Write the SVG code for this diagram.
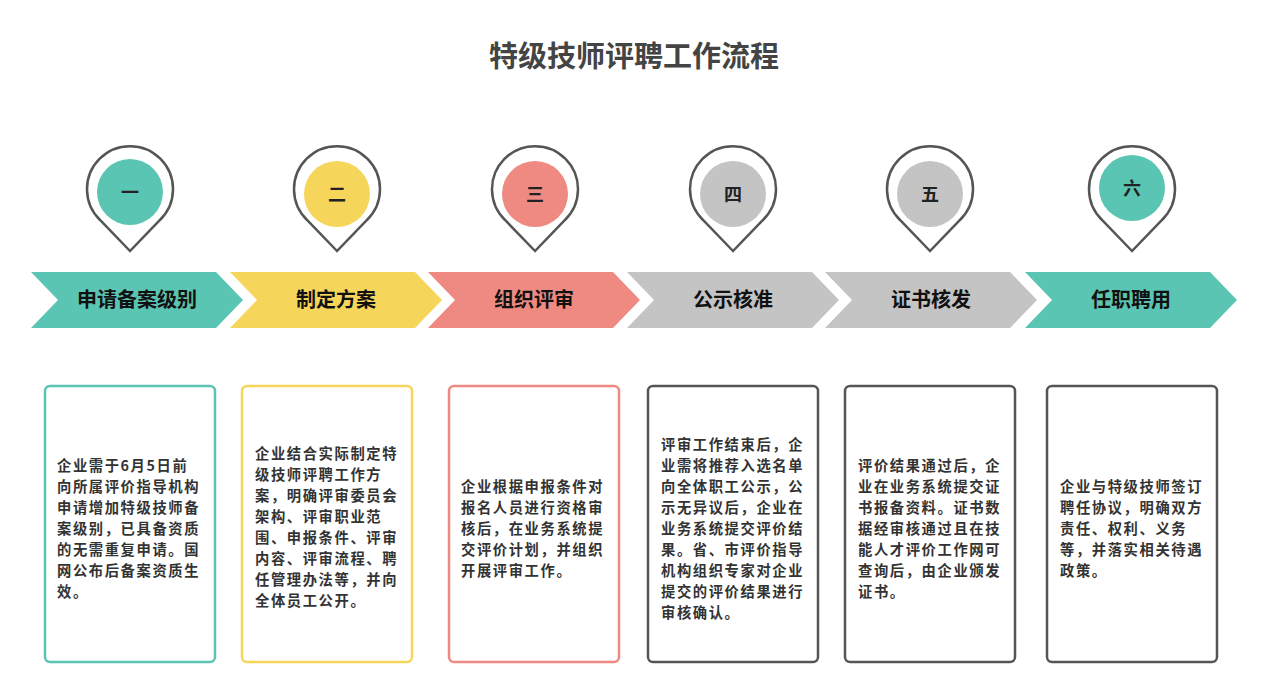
<svg xmlns="http://www.w3.org/2000/svg" width="1269" height="693" viewBox="0 0 1269 693">
<style>
text{font-family:"Noto Sans CJK SC","Liberation Sans",sans-serif;font-weight:bold}
.t{font-size:29px;fill:#444;text-anchor:middle}
.pin{fill:#fff;stroke:#555;stroke-width:2.5}
.num{font-size:18px;fill:#222;text-anchor:middle}
.lab{font-size:20px;fill:#111;text-anchor:middle}
.box{fill:#fff;stroke-width:2.5}
.d{font-size:14.3px;letter-spacing:1.6px;fill:#333}
</style>
<rect width="1269" height="693" fill="#fff"/>
<text class="t" x="634" y="67">特级技师评聘工作流程</text>
<defs>
<path id="pinp" d="M0,59 L-30,28 A43,43 0 1 1 30,28 Z"/>
<path id="chev" d="M0,0 H185 L212,28 L185,56 H0 L27,28 Z"/>
</defs>
<g id="connectors"></g>
<g id="n1"><use href="#pinp" class="pin" x="130" y="192"/><circle cx="130" cy="192" r="33" fill="#5BC5B3"/><text class="num" x="130" y="199">一</text>
<use href="#chev" x="31" y="272" fill="#5BC5B3"/><text class="lab" x="137" y="307">申请备案级别</text>
<rect class="box" x="45" y="386" width="170" height="276" rx="5" stroke="#5BC5B3"/>
<text class="d" x="57"><tspan x="57" y="471">企业需于6月5日前</tspan><tspan x="57" y="492">向所属评价指导机构</tspan><tspan x="57" y="513">申请增加特级技师备</tspan><tspan x="57" y="534">案级别，已具备资质</tspan><tspan x="57" y="555">的无需重复申请。国</tspan><tspan x="57" y="576">网公布后备案资质生</tspan><tspan x="57" y="597">效。</tspan></text></g>
<g id="n2"><use href="#pinp" class="pin" x="337" y="192"/><circle cx="337" cy="194" r="33" fill="#F5D55A"/><text class="num" x="337" y="201">二</text>
<use href="#chev" x="230" y="272" fill="#F5D55A"/><text class="lab" x="336" y="307">制定方案</text>
<rect class="box" x="242" y="386" width="170" height="276" rx="5" stroke="#F5D55A"/>
<text class="d"><tspan x="255" y="459">企业结合实际制定特</tspan><tspan x="255" y="480">级技师评聘工作方</tspan><tspan x="255" y="501">案，明确评审委员会</tspan><tspan x="255" y="522">架构、评审职业范</tspan><tspan x="255" y="543">围、申报条件、评审</tspan><tspan x="255" y="564">内容、评审流程、聘</tspan><tspan x="255" y="585">任管理办法等，并向</tspan><tspan x="255" y="606">全体员工公开。</tspan></text></g>
<g id="n3"><use href="#pinp" class="pin" x="535" y="192"/><circle cx="535" cy="194" r="33" fill="#EF8A83"/><text class="num" x="535" y="201">三</text>
<use href="#chev" x="428" y="272" fill="#EF8A83"/><text class="lab" x="534" y="307">组织评审</text>
<rect class="box" x="449" y="386" width="170" height="276" rx="5" stroke="#EF8A83"/>
<text class="d"><tspan x="461" y="492">企业根据申报条件对</tspan><tspan x="461" y="513">报名人员进行资格审</tspan><tspan x="461" y="534">核后，在业务系统提</tspan><tspan x="461" y="555">交评价计划，并组织</tspan><tspan x="461" y="576">开展评审工作。</tspan></text></g>
<g id="n4"><use href="#pinp" class="pin" x="733" y="192"/><circle cx="733" cy="194" r="33" fill="#C4C4C4"/><text class="num" x="733" y="201">四</text>
<use href="#chev" x="627" y="272" fill="#C4C4C4"/><text class="lab" x="733" y="307">公示核准</text>
<rect class="box" x="648" y="386" width="170" height="276" rx="5" stroke="#555"/>
<text class="d"><tspan x="661" y="450">评审工作结束后，企</tspan><tspan x="661" y="471">业需将推荐入选名单</tspan><tspan x="661" y="492">向全体职工公示，公</tspan><tspan x="661" y="513">示无异议后，企业在</tspan><tspan x="661" y="534">业务系统提交评价结</tspan><tspan x="661" y="555">果。省、市评价指导</tspan><tspan x="661" y="576">机构组织专家对企业</tspan><tspan x="661" y="597">提交的评价结果进行</tspan><tspan x="661" y="618">审核确认。</tspan></text></g>
<g id="n5"><use href="#pinp" class="pin" x="930" y="192"/><circle cx="930" cy="194" r="33" fill="#C4C4C4"/><text class="num" x="930" y="201">五</text>
<use href="#chev" x="825" y="272" fill="#C4C4C4"/><text class="lab" x="931" y="307">证书核发</text>
<rect class="box" x="845" y="386" width="170" height="276" rx="5" stroke="#555"/>
<text class="d"><tspan x="858" y="471">评价结果通过后，企</tspan><tspan x="858" y="492">业在业务系统提交证</tspan><tspan x="858" y="513">书报备资料。证书数</tspan><tspan x="858" y="534">据经审核通过且在技</tspan><tspan x="858" y="555">能人才评价工作网可</tspan><tspan x="858" y="576">查询后，由企业颁发</tspan><tspan x="858" y="597">证书。</tspan></text></g>
<g id="n6"><use href="#pinp" class="pin" x="1132" y="192"/><circle cx="1132" cy="188" r="33" fill="#5BC5B3"/><text class="num" x="1132" y="195">六</text>
<use href="#chev" x="1025" y="272" fill="#5BC5B3"/><text class="lab" x="1131" y="307">任职聘用</text>
<rect class="box" x="1047" y="386" width="170" height="276" rx="5" stroke="#555"/>
<text class="d"><tspan x="1060" y="492">企业与特级技师签订</tspan><tspan x="1060" y="513">聘任协议，明确双方</tspan><tspan x="1060" y="534">责任、权利、义务</tspan><tspan x="1060" y="555">等，并落实相关待遇</tspan><tspan x="1060" y="576">政策。</tspan></text></g>
</svg>
